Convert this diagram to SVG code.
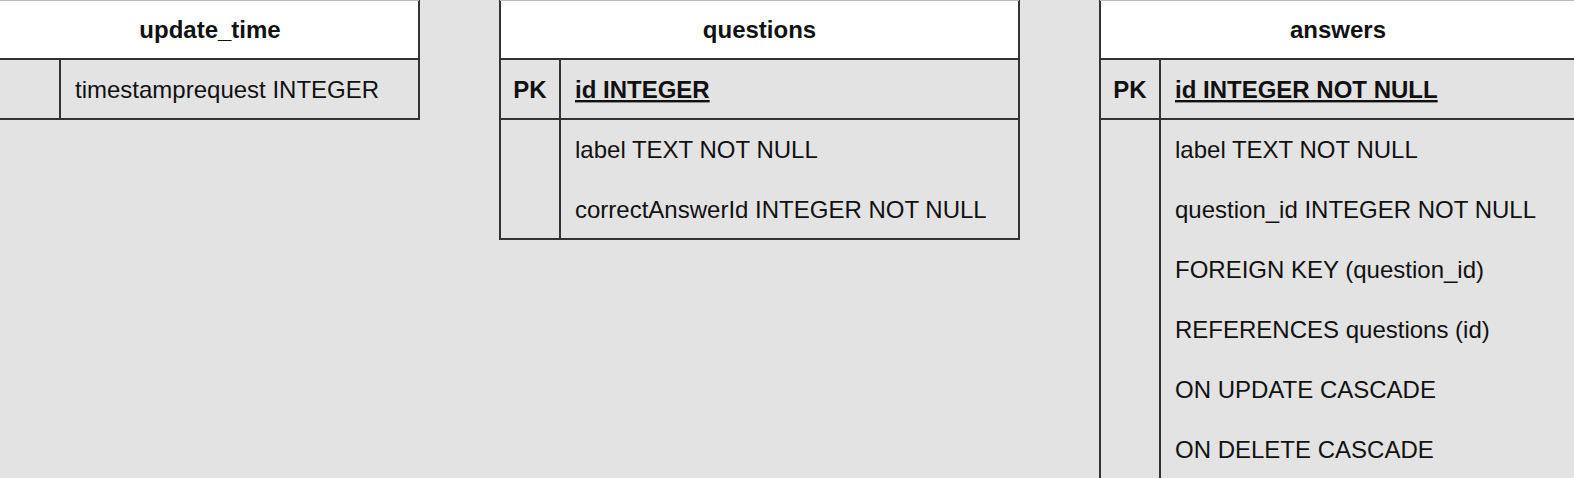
<svg xmlns="http://www.w3.org/2000/svg" width="1574" height="478" viewBox="0 0 1574 478">
<style>
  .bg { fill: #e3e3e3; }
  .hdr { fill: #ffffff; stroke: #333333; stroke-width: 2; }
  .ln { stroke: #333333; stroke-width: 2; fill: none; }
  .edge { stroke: #bdbdbd; stroke-width: 1; }
  .t { font-family: "Liberation Sans", Arial, Helvetica, sans-serif; font-size: 24px; fill: #111111; }
  .b { font-weight: bold; }
  .c { text-anchor: middle; }
</style>
<rect class="bg" x="0" y="0" width="1574" height="478"/>
<g id="connectors"/>

<g id="update_time">
  <rect class="hdr" x="-2" y="-2" width="421" height="61"/>
  <line class="edge" x1="0" y1="0.5" x2="419" y2="0.5"/>
  <path class="ln" d="M-2 119 H419 V59 M60 59 V119"/>
  <text class="t b c" x="210" y="38">update_time</text>
  <text class="t" x="75" y="98">timestamprequest INTEGER</text>
</g>

<g id="questions">
  <rect class="hdr" x="500" y="-2" width="519" height="61"/>
  <line class="edge" x1="500" y1="0.5" x2="1019" y2="0.5"/>
  <path class="ln" d="M500 59 V239 H1019 V59 M500 119 H1019 M560 59 V239"/>
  <text class="t b c" x="759.5" y="38">questions</text>
  <text class="t b c" x="530" y="98">PK</text>
  <text class="t b" x="575" y="98" text-decoration="underline">id INTEGER</text>
  <text class="t" x="575" y="158">label TEXT NOT NULL</text>
  <text class="t" x="575" y="218">correctAnswerId INTEGER NOT NULL</text>
</g>

<g id="answers">
  <rect class="hdr" x="1100" y="-2" width="500" height="61"/>
  <line class="edge" x1="1100" y1="0.5" x2="1574" y2="0.5"/>
  <path class="ln" d="M1100 59 V480 M1100 119 H1580 M1160 59 V480"/>
  <text class="t b c" x="1338" y="38">answers</text>
  <text class="t b c" x="1130" y="98">PK</text>
  <text class="t b" x="1175" y="98" text-decoration="underline">id INTEGER NOT NULL</text>
  <text class="t" x="1175" y="158">label TEXT NOT NULL</text>
  <text class="t" x="1175" y="218">question_id INTEGER NOT NULL</text>
  <text class="t" x="1175" y="278">FOREIGN KEY (question_id)</text>
  <text class="t" x="1175" y="338">REFERENCES questions (id)</text>
  <text class="t" x="1175" y="398">ON UPDATE CASCADE</text>
  <text class="t" x="1175" y="458">ON DELETE CASCADE</text>
</g>
</svg>
